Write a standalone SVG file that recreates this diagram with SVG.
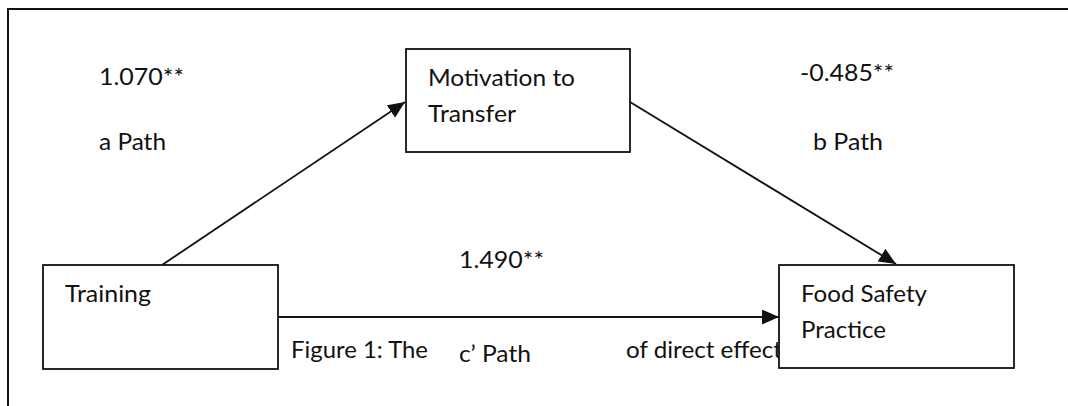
<svg xmlns="http://www.w3.org/2000/svg" width="1068" height="406" viewBox="0 0 1068 406">
  <defs>
    <style>
      .txt { font-family: "Lato", "Open Sans", "Liberation Sans", sans-serif; font-size: 23px; fill: #111; }
      .box { fill: #fff; stroke: #111; stroke-width: 1.8; }
      .edge { fill: none; stroke: #111; stroke-width: 1.8; marker-end: url(#arrow); }
      .frame { fill: none; stroke: #111; stroke-width: 2; }
    </style>
    <marker id="arrow" markerUnits="userSpaceOnUse" markerWidth="17" markerHeight="15" refX="17" refY="7.5" orient="auto">
      <path d="M0,0 L17,7.5 L0,15 z" fill="#111"/>
    </marker>
  </defs>

  <rect width="1068" height="406" fill="#fff"/>

  <!-- page frame (top and left edges) -->
  <path class="frame" d="M8,406 V9 H1068"/>

  <!-- caption line running under the model -->
  <g id="caption">
    <text class="txt" x="291" y="358" textLength="137" lengthAdjust="spacingAndGlyphs">Figure 1: The</text>
    <text class="txt" x="626" y="358" textLength="156" lengthAdjust="spacingAndGlyphs">of direct effect</text>
    <rect x="432" y="338" width="186" height="36" fill="#fff"/>
  </g>

  <!-- connectors -->
  <g id="connectors">
    <line class="edge" x1="162" y1="265" x2="405" y2="102"/>
    <line class="edge" x1="630" y1="102" x2="896" y2="264"/>
    <line class="edge" x1="278" y1="317" x2="779" y2="317"/>
  </g>

  <!-- path coefficients and labels -->
  <g id="labels">
    <text class="txt" x="99" y="85" textLength="85" lengthAdjust="spacingAndGlyphs">1.070**</text>
    <text class="txt" x="99" y="150" textLength="67" lengthAdjust="spacingAndGlyphs">a Path</text>
    <text class="txt" x="800" y="81" textLength="94" lengthAdjust="spacingAndGlyphs">-0.485**</text>
    <text class="txt" x="813" y="150" textLength="70" lengthAdjust="spacingAndGlyphs">b Path</text>
    <text class="txt" x="459" y="268" textLength="85" lengthAdjust="spacingAndGlyphs">1.490**</text>
    <text class="txt" x="459" y="362" textLength="72" lengthAdjust="spacingAndGlyphs">c’ Path</text>
  </g>

  <!-- nodes -->
  <g id="node-training">
    <rect class="box" x="43" y="265" width="235" height="104"/>
    <text class="txt" x="65" y="302" textLength="86" lengthAdjust="spacingAndGlyphs">Training</text>
  </g>

  <g id="node-motivation">
    <rect class="box" x="406" y="49" width="224" height="103"/>
    <text class="txt" x="428" y="86" textLength="147" lengthAdjust="spacingAndGlyphs">Motivation to</text>
    <text class="txt" x="428" y="122" textLength="88" lengthAdjust="spacingAndGlyphs">Transfer</text>
  </g>

  <g id="node-food-safety">
    <rect class="box" x="779" y="265" width="235" height="103"/>
    <text class="txt" x="801" y="302" textLength="126" lengthAdjust="spacingAndGlyphs">Food Safety</text>
    <text class="txt" x="801" y="338" textLength="85" lengthAdjust="spacingAndGlyphs">Practice</text>
  </g>
</svg>
